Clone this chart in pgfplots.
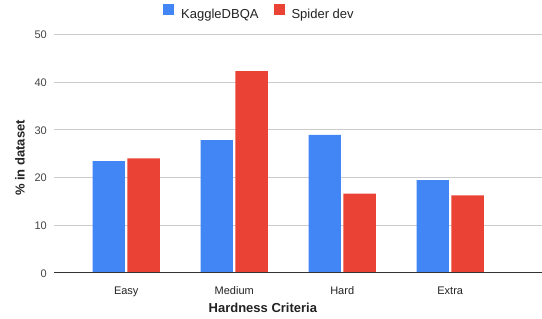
\documentclass[border=0pt]{standalone}
\usepackage{fontspec}
\setmainfont{Liberation Sans}
\usepackage{pgfplots}
\pgfplotsset{compat=1.18}
\definecolor{gblue}{HTML}{4285F4}
\definecolor{gred}{HTML}{EA4335}
\definecolor{gridc}{HTML}{CCCCCC}
\definecolor{axc}{HTML}{333333}
\definecolor{tickc}{HTML}{444444}
\definecolor{txtc}{HTML}{222222}
\begin{document}
\begin{tikzpicture}
\begin{axis}[
  name=ax,
  scale only axis,
  width=488pt, height=238.4pt,
  xmin=-0.669, xmax=3.85,
  ymin=0, ymax=50,
  ytick={0,10,20,30,40,50},
  xtick={0,1,2,3},
  xticklabels={Easy,Medium,Hard,Extra},
  axis line style={draw=none},
  tick style={draw=none},
  ymajorgrids,
  grid style={gridc, line width=0.8pt},
  /pgf/number format/assume math mode=true,
  yticklabel style={font=\fontsize{11}{13}\selectfont, text=tickc, anchor=east, inner sep=0pt, xshift=-7pt, yshift=-0.6pt},
  xticklabel style={font=\fontsize{11}{13}\selectfont, text=txtc, anchor=base, inner sep=0pt, yshift=-17.3pt},
  xlabel={Hardness Criteria},
  ylabel={\% in dataset},
  xlabel style={font=\fontsize{13}{15}\selectfont\bfseries, text=txtc, at={(axis description cs:0.428,0)}, anchor=base, inner sep=0pt, yshift=-40pt},
  ylabel style={font=\fontsize{13}{15}\selectfont\bfseries, text=txtc, at={(axis description cs:-0.0697,0.481)}, anchor=center, inner sep=0pt},
  ybar,
  bar width=32.3pt,
  legend columns=2,
  legend style={draw=none, fill=none, at={(axis description cs:0.419,1.0935)}, anchor=center,
    font=\fontsize{13}{15}\selectfont, text=txtc, inner sep=0pt,
    nodes={inner sep=0pt},
    /tikz/every odd column/.append style={column sep=7pt},
    /tikz/every even column/.append style={column sep=15pt}},
  legend image code/.code={\fill[#1] (0pt,-0.5pt) rectangle (11pt,10.5pt);},
]
\addplot[fill=gblue, draw=none, bar shift=-17.4pt] coordinates {(0,23.4) (1,27.8) (2,28.9) (3,19.4)};
\addplot[fill=gred, draw=none, bar shift=17.4pt] coordinates {(0,24.0) (1,42.3) (2,16.6) (3,16.2)};
\legend{KaggleDBQA, Spider dev}
\draw[axc, line width=1pt] (rel axis cs:0,0) -- (rel axis cs:1,0);
\end{axis}
\pgfresetboundingbox
\path ([shift={(-54pt,-45.3pt)}]ax.south west) rectangle ([shift={(0pt,34.3pt)}]ax.north east);
\end{tikzpicture}
\end{document}
